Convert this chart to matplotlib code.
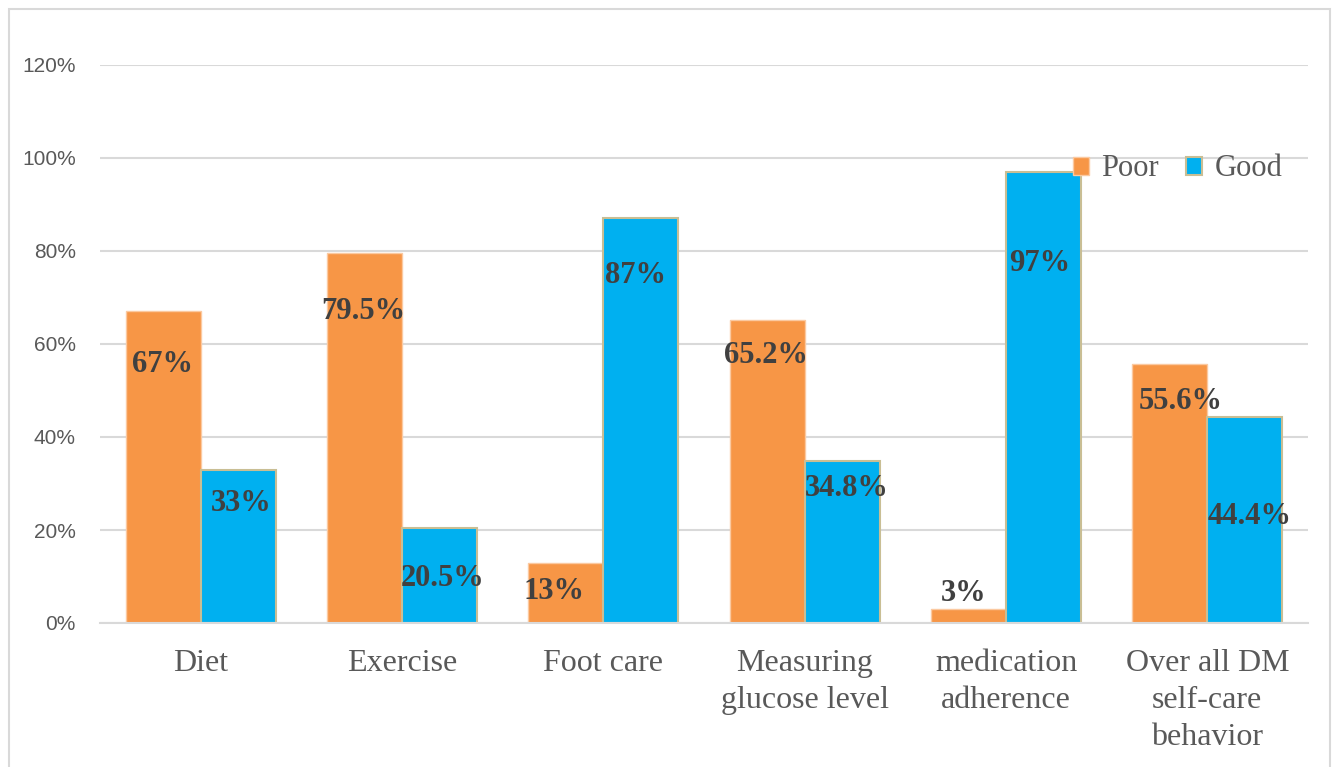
import numpy as np
import matplotlib.pyplot as plt
from matplotlib.patches import Rectangle
import matplotlib.ticker as tkr

categories = ["Diet", "Exercise", "Foot care", "Measuring\nglucose level",
              "medication\nadherence", "Over all DM\nself-care\nbehavior"]
poor = [67, 79.5, 13, 65.2, 3, 55.6]
good = [33, 20.5, 87, 34.8, 97, 44.4]
poor_labels = ["67%", "79.5%", "13%", "65.2%", "3%", "55.6%"]
good_labels = ["33%", "20.5%", "87%", "34.8%", "97%", "44.4%"]

# label offsets from bar top (pixels), Excel put them a bit unevenly
poor_off = [(-1, -53), (-1, -58), (-12, -29), (-1, -36), (-5, 16), (11, -37)]
good_off = [(3, -34), (3, -51), (-5, -57), (5, -27), (-4, -92), (5, -100)]

orange = "#F79646"
blue = "#00B0F0"

fig = plt.figure(figsize=(13.35, 7.67), dpi=100)
ax = fig.add_axes([100/1335, 1-623/767, 1208/1335, 558/767])

x = np.arange(len(categories))
w = 0.372
b1 = ax.bar(x - w/2, np.array(poor)/100, w, color=orange, edgecolor="#FBC9A0", linewidth=1, label="Poor", zorder=3)
b2 = ax.bar(x + w/2, np.array(good)/100, w, color=blue, edgecolor="#C9BE94", linewidth=1.5, label="Good", zorder=3)

for bars, labs, offs in [(b1, poor_labels, poor_off), (b2, good_labels, good_off)]:
    for r, lab, (dx, dy) in zip(bars, labs, offs):
        ax.annotate(lab, (r.get_x() + r.get_width()/2, r.get_height()),
                    xytext=(dx, dy), textcoords="offset pixels",
                    ha="center", va="center", family="Liberation Serif",
                    fontweight="bold", fontsize=22, color="#404040", zorder=5)

ax.set_xlim(-0.5, len(categories) - 0.5)
ax.set_ylim(0, 1.2)
ax.yaxis.set_major_locator(tkr.MultipleLocator(0.2))
ax.yaxis.set_major_formatter(tkr.FuncFormatter(lambda v, p: "{:.0f}%".format(v*100)))
ax.grid(axis="y", color="#D9D9D9", linewidth=1.5, zorder=0)
for s in ["top", "right", "left"]:
    ax.spines[s].set_visible(False)
ax.spines["bottom"].set_color("#D9D9D9")
ax.spines["bottom"].set_linewidth(1.5)
ax.spines["bottom"].set_zorder(4)
ax.tick_params(length=0)
ax.tick_params(axis="y", labelsize=15, labelcolor="#595959", pad=17.5)
ax.set_xticks(x)
ax.set_xticklabels(categories, family="Liberation Serif", fontsize=23,
                   color="#595959", linespacing=1.35, va="top")
ax.tick_params(axis="x", pad=19)
for t in ax.get_yticklabels():
    t.set_family("Liberation Sans")

ax.legend(loc="center left", bbox_to_anchor=(1073/1335, 1-169/767),
          bbox_transform=fig.transFigure, frameon=False,
          ncol=2, prop={"family": "Liberation Serif", "size": 22},
          handlelength=0.52, handleheight=0.52, handletextpad=0.4, columnspacing=0.9,
          labelcolor="#595959", borderaxespad=0, borderpad=0)

fig.patches.append(Rectangle((9/1335, -0.01), 1321/1335, 1 - 9/767 + 0.01,
                             transform=fig.transFigure, fill=False,
                             edgecolor="#D9D9D9", linewidth=1.5))

fig.savefig("out.png", dpi=100)
